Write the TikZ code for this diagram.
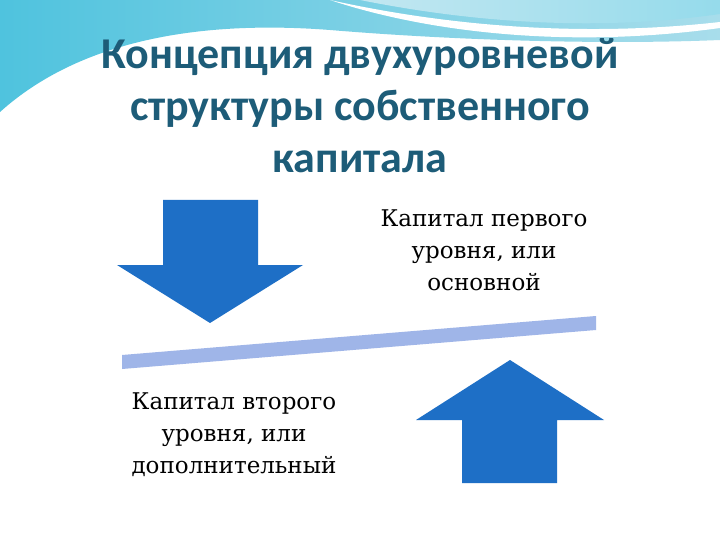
\documentclass[tikz,border=0pt]{standalone}
\usepackage{fontspec}
\setmainfont{DejaVu Serif}
\newfontfamily\titlefont{Carlito}
\begin{document}
\begin{tikzpicture}[x=1pt,y=-1pt,
  arrowfill/.style={fill=arrowblue,draw=none},
  ttl/.style={font=\titlefont\bfseries\fontsize{44}{52}\selectfont,text=titlecol,align=center},
  lbl/.style={font=\fontsize{23}{32}\selectfont,align=center,text=black}]
\definecolor{arrowblue}{HTML}{1E6FC6}
\definecolor{titlecol}{HTML}{1D5C78}
\definecolor{barcol}{HTML}{9FB5E8}
\definecolor{wave1}{HTML}{4FC3DE}
\definecolor{wave2}{HTML}{A8DDEB}
\useasboundingbox (0,0) rectangle (720,540);
\fill[white] (0,0) rectangle (720,540);
% background waves
\shade[left color=wave1,right color=wave2] (0,0) -- (0,112) .. controls (80,40) and (200,20) .. (330,30) .. controls (450,40) and (600,45) .. (720,40) -- (720,0) -- cycle;
\fill[white] (330,0) .. controls (420,20) and (560,40) .. (720,22) -- (720,28) .. controls (560,50) and (420,30) .. (330,0) -- cycle;
\shade[left color=wave2!70,right color=wave1!60] (360,0) .. controls (450,18) and (580,34) .. (720,14) -- (720,0) -- cycle;
% title
\node[ttl] (title) at (360,106) {Концепция двухуровневой\\структуры собственного\\капитала};
% down arrow
\fill[arrowfill] (163,200) -- (258,200) -- (258,265) -- (303,265) -- (210,323) -- (117,265) -- (163,265) -- cycle;
% up arrow
\fill[arrowfill] (510,360) -- (604,420) -- (557,420) -- (557,483) -- (462,483) -- (462,420) -- (416,420) -- cycle;
% bar
\fill[barcol] (122,355) -- (596,316) -- (596,330) -- (122,369) -- cycle;
% labels
\node[lbl] (top) at (484,250) {Капитал первого\\уровня, или\\основной};
\node[lbl] (bot) at (234,435) {Капитал второго\\уровня, или\\дополнительный};
\end{tikzpicture}
\end{document}
